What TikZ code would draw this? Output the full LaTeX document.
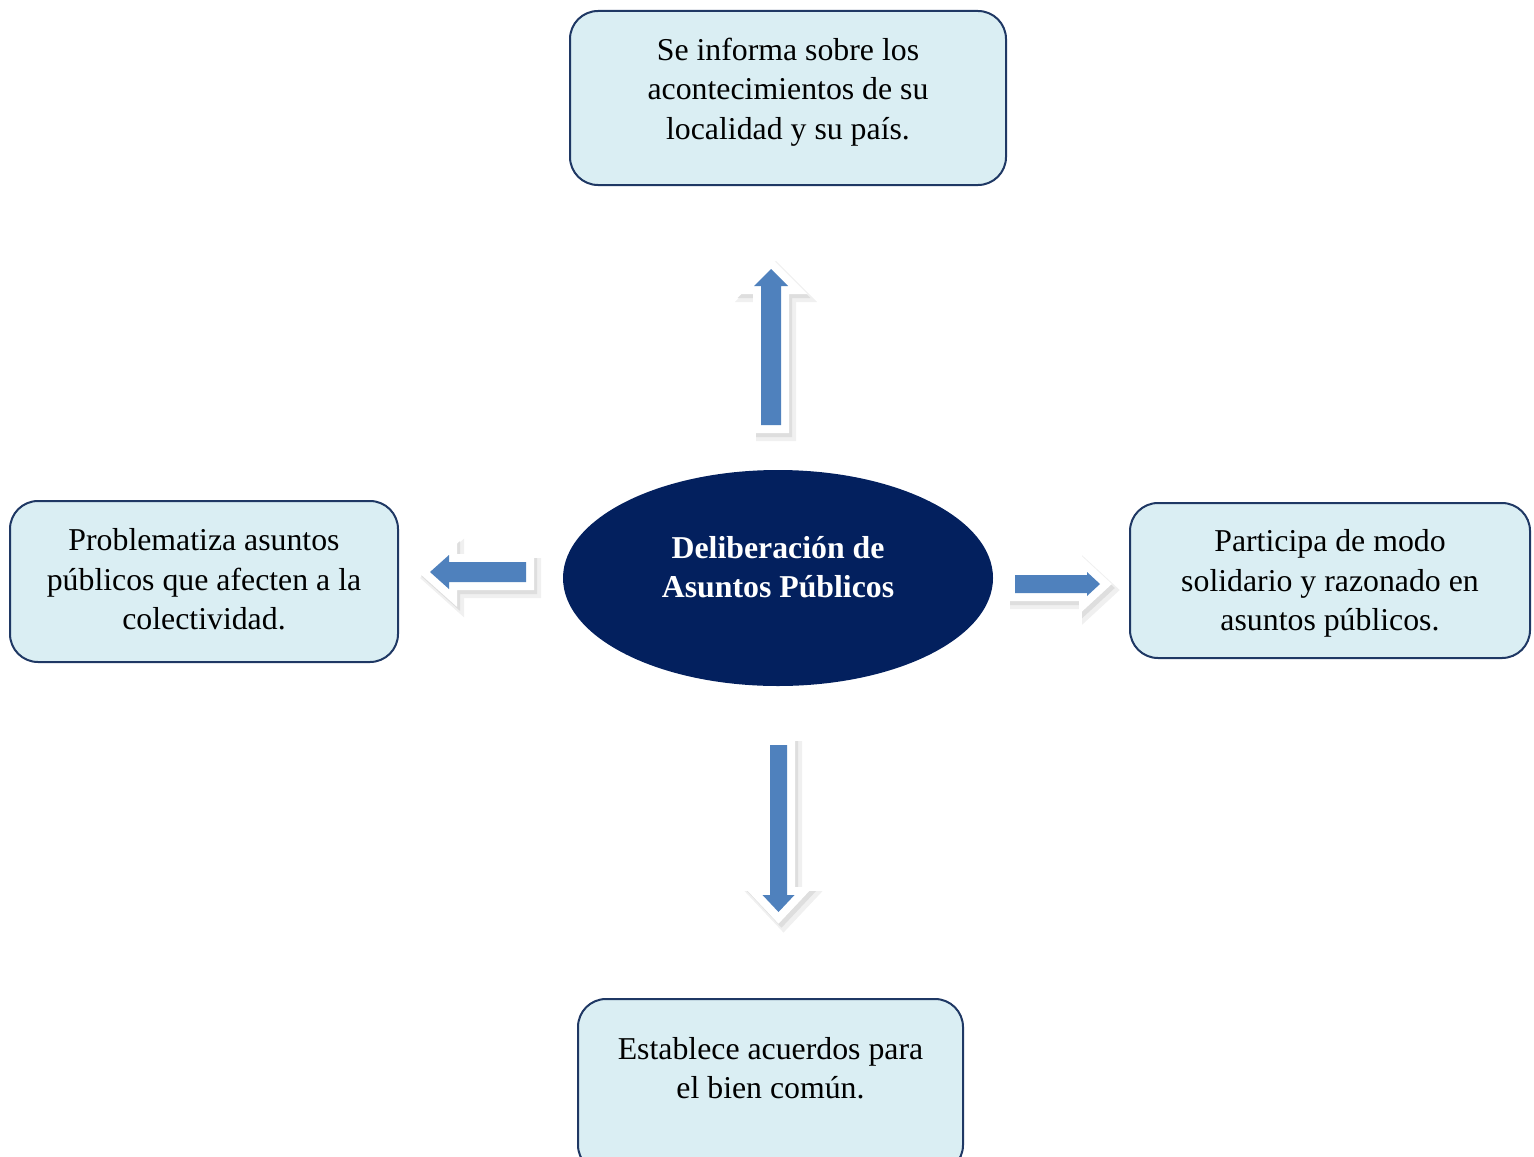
\documentclass[tikz,border=0pt]{standalone}
\usepackage{fontspec}
\setmainfont{Liberation Serif}
\usetikzlibrary{shapes.geometric}

\definecolor{boxfill}{HTML}{DAEEF3}
\definecolor{boxline}{HTML}{1F3864}
\definecolor{navy}{HTML}{03205E}
\definecolor{arrowblue}{HTML}{4F81BD}

\tikzset{
    idea node/.style={rectangle, rounded corners=14pt, draw=boxline, line width=1pt, fill=boxfill},
    idea text/.style={align=flush center, inner sep=0pt, font=\fontsize{15.9pt}{19.75pt}\selectfont},
    center node/.style={ellipse, fill=navy, text=white, align=flush center, inner sep=0pt, text width=150pt,
        minimum width=215pt, minimum height=108pt, font=\fontsize{15.9pt}{19.75pt}\selectfont\bfseries},
    block arrow/.style={fill=arrowblue,
        preaction={fill=black!6, draw=black!6, line width=10pt, transform canvas={shift={(2.5pt,-3pt)}}},
        preaction={fill=black!13, draw=black!13, line width=8pt, transform canvas={shift={(1.5pt,-2pt)}}},
        preaction={fill=white, draw=white, line width=8pt}}
    }

\begin{document}
\begin{tikzpicture}[x=0.5pt, y=-0.5pt]
    \useasboundingbox (0,0) rectangle (1534,1156);

    \node (delib) [center node] at (778,578) {Deliberación de\\Asuntos Públicos\par\vspace*{11pt}};

    \node (informa) [idea node, minimum width=218pt, minimum height=87pt,
        label={[idea text, yshift=3pt]center:{Se informa sobre los\\acontecimientos de su\\localidad y su país.}}]
        at (788,98) {};
    \node (problematiza) [idea node, minimum width=194pt, minimum height=80.5pt,
        label={[idea text, yshift=1pt]center:{Problematiza asuntos\\públicos que afecten a la\\colectividad.}}]
        at (204,581.5) {};
    \node (participa) [idea node, minimum width=200pt, minimum height=77.5pt,
        label={[idea text, yshift=-1.5pt]center:{Participa de modo\\solidario y razonado en\\asuntos públicos.}}]
        at (1330,580.5) {};
    \node (establece) [idea node, minimum width=192.5pt, minimum height=87pt,
        label={[idea text, yshift=9pt]center:{Establece acuerdos para\\el bien común.}}]
        at (770.5,1086) {};

    % block arrows: tail x/y, angle, length, shaft, head, tip
    \foreach \tx/\ty/\ang/\len/\shaft/\head/\tip in
        {771/425/90/156/10/17/17, 526/572/180/96/10/17/19,
         1015/584/0/85/9/12/13, 778.5/745/-90/167/8.5/16/17}
        \fill[block arrow, shift={(\tx,\ty)}, rotate=\ang]
            (0,-\shaft) -- (\len-\tip,-\shaft) -- (\len-\tip,-\head) -- (\len,0)
            -- (\len-\tip,\head) -- (\len-\tip,\shaft) -- (0,\shaft) -- cycle;
\end{tikzpicture}
\end{document}
